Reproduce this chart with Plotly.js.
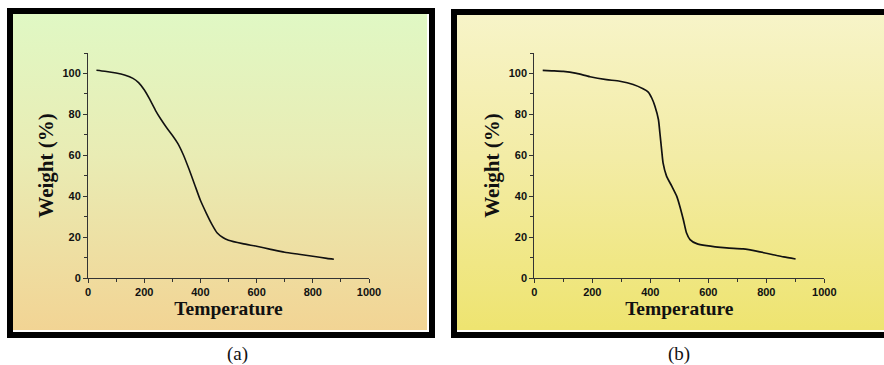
<!DOCTYPE html>
<html>
<head>
<meta charset="utf-8">
<script src="https://cdn.plot.ly/plotly-3.0.1.min.js"></script>
<style>
  html, body { margin: 0; padding: 0; background: #ffffff; }
  #wrap { position: relative; width: 884px; height: 365px; overflow: hidden; }
  .frame { position: absolute; border: 6px solid #000; background: #ffffff; box-sizing: border-box; }
  .fill { position: absolute; left: 0; top: 0; right: 2px; bottom: 2px; }
  #fa { left: 7px; top: 8px; width: 428px; height: 330px; }
  #fa .fill { background: linear-gradient(to bottom, #e0f8c4 0%, #e9ecb4 45%, #f2d494 100%); }
  #fb { left: 451px; top: 9px; width: 460px; height: 329px; }
  #fb .fill { background: linear-gradient(to bottom, #f7f4c8 0%, #f3eca6 45%, #eee470 100%); }
  #chart { position: absolute; left: 0; top: 0; width: 884px; height: 365px; }
</style>
</head>
<body>
<div id="wrap">
  <div class="frame" id="fa"><div class="fill"></div></div>
  <div class="frame" id="fb"><div class="fill"></div></div>
  <div id="chart"></div>
</div>
<script>
// Panel (a) TGA curve
const tempA = [30, 60, 100, 130, 160, 180, 200, 220, 240, 260, 280, 300, 320, 340, 360, 380, 400, 420, 440, 460, 480, 500, 550, 600, 650, 700, 750, 800, 850, 875];
const weightA = [101.6, 101.1, 100.2, 99.2, 97.6, 95.5, 92.0, 87.3, 82.0, 77.5, 73.5, 69.8, 65.7, 60.0, 53.0, 45.5, 38.0, 32.0, 26.5, 22.0, 19.8, 18.5, 16.8, 15.5, 14.0, 12.6, 11.6, 10.6, 9.6, 9.2];
// Panel (b) TGA curve
const tempB = [29, 60, 100, 146, 192, 249, 295, 341, 375, 393, 405, 416, 428, 433, 439, 444, 456, 474, 491, 502, 514, 525, 537, 560, 594, 663, 720, 770, 820, 860, 901];
const weightB = [101.5, 101.3, 101.0, 100.0, 98.4, 97.0, 96.2, 94.6, 92.5, 90.9, 88.0, 84.0, 77.5, 71.0, 62.8, 56.3, 49.8, 44.9, 40.0, 35.0, 28.5, 22.0, 18.8, 16.8, 15.8, 14.7, 14.2, 13.0, 11.5, 10.3, 9.3];
const xTickVals = [0, 200, 400, 600, 800, 1000];
const yTickVals = [0, 20, 40, 60, 80, 100];
const xTitle = 'Temperature';
const yTitle = 'Weight (%)';
const panelLabels = ['(a)', '(b)'];

const tickFont = { family: 'Liberation Sans', size: 11, color: '#111', weight: 'bold' };
const xTitleFont = { family: 'Liberation Serif', size: 19.5, color: '#111', weight: 'bold' };
const yTitleFont = { family: 'Liberation Serif', size: 21, color: '#111', weight: 'bold' };

function xAxis(domain) {
  return {
    domain: domain, range: [0, 1000], tickvals: xTickVals,
    showline: true, linecolor: '#333', linewidth: 1, ticks: 'outside', ticklen: 4, tickcolor: '#333',
    minor: { dtick: 100, ticks: 'outside', ticklen: 3, tickcolor: '#333', showgrid: false },
    showgrid: false, zeroline: false, tickfont: tickFont, fixedrange: true,
    title: { text: xTitle, font: xTitleFont, standoff: 0 }
  };
}
function yAxis(domain, anchor) {
  return {
    domain: domain, anchor: anchor, range: [0, 110], tickvals: yTickVals,
    showline: true, linecolor: '#333', linewidth: 1, ticks: 'outside', ticklen: 4, tickcolor: '#333',
    minor: { dtick: 10, ticks: 'outside', ticklen: 3, tickcolor: '#333', showgrid: false },
    showgrid: false, zeroline: false, tickfont: tickFont, fixedrange: true,
    title: { text: yTitle, font: yTitleFont, standoff: 3 }
  };
}

const W = 884, H = 365;
const yDom = [(H - 278) / H, (H - 53) / H];

const traces = [
  { x: tempA, y: weightA, xaxis: 'x', yaxis: 'y', mode: 'lines', line: { color: '#111', width: 1.6, shape: 'spline', smoothing: 0.6 }, hoverinfo: 'skip', showlegend: false },
  { x: tempB, y: weightB, xaxis: 'x2', yaxis: 'y2', mode: 'lines', line: { color: '#111', width: 1.7, shape: 'spline', smoothing: 0.6 }, hoverinfo: 'skip', showlegend: false }
];

const labelFont = { family: 'Liberation Serif', size: 19, color: '#111' };
const layout = {
  width: W, height: H,
  margin: { l: 0, r: 0, t: 0, b: 0 },
  paper_bgcolor: 'rgba(0,0,0,0)', plot_bgcolor: 'rgba(0,0,0,0)',
  showlegend: false,
  xaxis: xAxis([88 / W, 369 / W]),
  yaxis: yAxis(yDom, 'x'),
  xaxis2: Object.assign(xAxis([534.3 / W, 824.3 / W]), { anchor: 'y2' }),
  yaxis2: yAxis(yDom, 'x2'),
  annotations: [
    { text: panelLabels[0], x: 237 / W, y: (H - 354) / H, xref: 'paper', yref: 'paper', showarrow: false,
      xanchor: 'center', yanchor: 'middle', font: labelFont },
    { text: panelLabels[1], x: 679 / W, y: (H - 354) / H, xref: 'paper', yref: 'paper', showarrow: false,
      xanchor: 'center', yanchor: 'middle', font: labelFont }
  ]
};

Plotly.newPlot('chart', traces, layout, { displayModeBar: false, staticPlot: true });
</script>
</body>
</html>
